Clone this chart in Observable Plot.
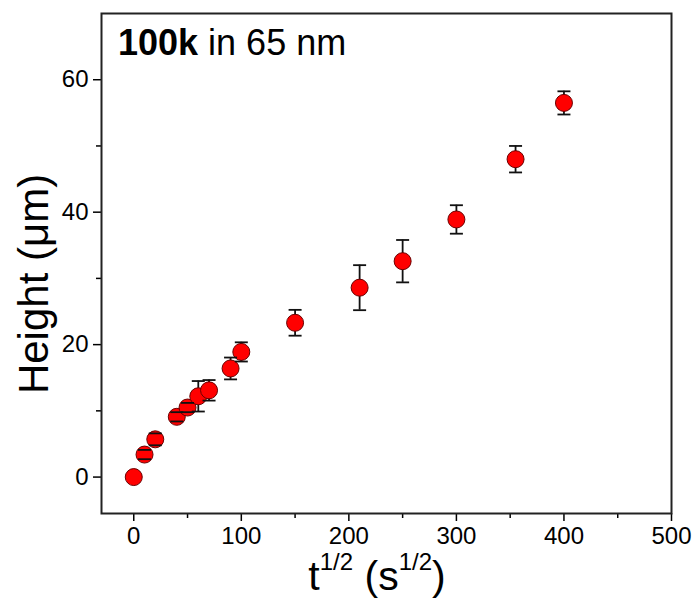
<!DOCTYPE html>
<html><head><meta charset="utf-8">
<script src="https://cdn.jsdelivr.net/npm/d3@7"></script>
<script src="https://cdn.jsdelivr.net/npm/@observablehq/plot@0.6"></script>
<style>
body{margin:0;background:#fff;}
#chart{width:696px;height:602px;}
</style>
</head><body><div id="chart"></div>
<script>
// data
const tSqrt     = [0, 10, 20, 40, 50, 60, 70, 90, 100, 150, 210, 250, 300, 355, 400];
const heightUm  = [0, 3.4, 5.7, 9.1, 10.5, 12.2, 13.1, 16.4, 18.9, 23.3, 28.6, 32.6, 38.9, 48.0, 56.5];
const heightErr = [0, 0.7, 0.9, 0.7, 0.7, 2.3, 1.55, 1.65, 1.45, 1.95, 3.4, 3.2, 2.15, 2.0, 1.75];
const xMajorTicks = [0, 100, 200, 300, 400, 500];
const xMinorTicks = [50, 150, 250, 350, 450];
const yMajorTicks = [0, 20, 40, 60];
const yMinorTicks = [10, 30, 50];
const annotationBold = "100k";
const annotationRest = " in 65 nm";
const yTitle = "Height (\u03bcm)";

const data = tSqrt.map((t, i) => ({t, h: heightUm[i], e: heightErr[i]}));
const capSymbol = {draw(ctx) { ctx.moveTo(-6.5, 0); ctx.lineTo(6.5, 0); }};
const font = "'Liberation Sans', Arial, sans-serif";

const plot = Plot.plot({
  width: 696,
  height: 602,
  marginLeft: 101,
  marginRight: 25,
  marginTop: 13,
  marginBottom: 89,
  style: {fontFamily: font, color: "#000", background: "#fff"},
  x: {domain: [-30, 500]},
  y: {domain: [-5.5, 70]},
  marks: [
    Plot.axisX({ticks: xMajorTicks, tickSize: 8, tickPadding: 5, fontSize: 24, strokeWidth: 1.5, label: null}),
    Plot.axisX({ticks: xMinorTicks, tickSize: 5, tickFormat: () => "", strokeWidth: 1.5, label: null}),
    Plot.axisY({ticks: yMajorTicks, tickSize: 8, tickPadding: 5, fontSize: 24, strokeWidth: 1.5, label: null}),
    Plot.axisY({ticks: yMinorTicks, tickSize: 5, tickFormat: () => "", strokeWidth: 1.5, label: null}),
    Plot.frame({stroke: "#222", strokeWidth: 2}),
    Plot.ruleX(data.filter(d => d.e > 0), {x: "t", y1: d => d.h - d.e, y2: d => d.h + d.e, stroke: "#111", strokeWidth: 1.8}),
    Plot.dot(data, {x: "t", y: "h", r: 8.5, fill: "#ff0000", stroke: "#6a0000", strokeWidth: 1}),
    Plot.dot(data.filter(d => d.e > 0), {x: "t", y: d => d.h + d.e, symbol: capSymbol, stroke: "#111", strokeWidth: 1.8, fill: "none"}),
    Plot.dot(data.filter(d => d.e > 0), {x: "t", y: d => d.h - d.e, symbol: capSymbol, stroke: "#111", strokeWidth: 1.8, fill: "none"})
  ]
});
document.getElementById("chart").appendChild(plot);

const svg = d3.select(plot);
// annotation
const ann = svg.append("text").attr("x", 118).attr("y", 55).attr("text-anchor", "start")
  .attr("font-family", font).attr("font-size", 36).attr("fill", "#000");
ann.append("tspan").attr("font-weight", "bold").text(annotationBold);
ann.append("tspan").text(annotationRest);

// x axis title with superscripts
const xt = svg.append("text").attr("x", 377).attr("y", 590)
  .attr("text-anchor", "middle").attr("font-family", font).attr("font-size", 41).attr("fill", "#000");
xt.append("tspan").text("t");
xt.append("tspan").attr("font-size", 24).attr("dy", -20).text("1/2");
xt.append("tspan").attr("dy", 20).text(" (s");
xt.append("tspan").attr("font-size", 24).attr("dy", -20).text("1/2");
xt.append("tspan").attr("dy", 20).text(")");

// y axis title
svg.append("text").attr("transform", "translate(48,284) rotate(-90)")
  .attr("text-anchor", "middle").attr("font-family", font).attr("font-size", 42).attr("fill", "#000")
  .text(yTitle);
</script>
</body></html>
